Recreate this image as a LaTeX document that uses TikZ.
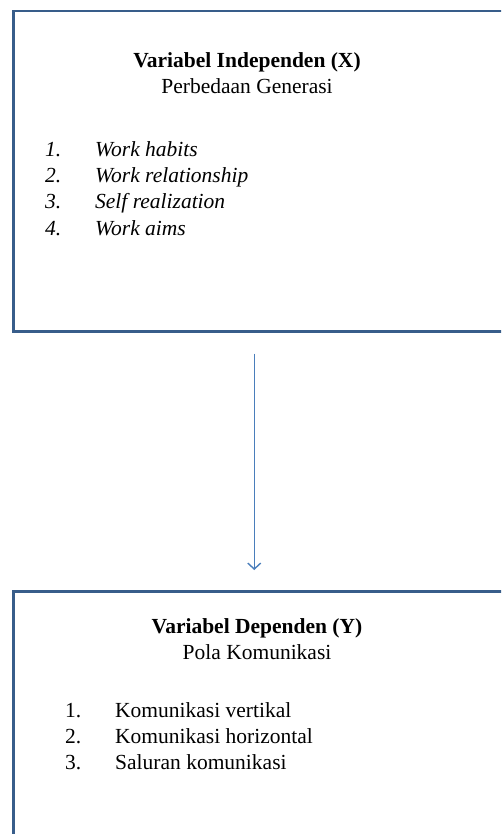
\documentclass[tikz,border=0pt]{standalone}
\usepackage{fontspec}
\setmainfont{Liberation Serif}
\usetikzlibrary{arrows.meta,positioning}
\definecolor{boxline}{HTML}{385D8A}
\definecolor{flowline}{HTML}{4A7EBB}

\begin{document}
\begin{tikzpicture}[x=1pt,y=-1pt,
  varbox/.style={draw=boxline, line width=2.5pt, minimum width=490pt, anchor=north west, inner sep=0pt},
  vartitle/.style={anchor=base, font=\fontsize{21.5}{26}\selectfont\bfseries},
  varsub/.style={anchor=base, font=\fontsize{21.5}{26}\selectfont},
  itemtxt/.style={anchor=base west, inner sep=0pt, font=\fontsize{21.5}{26}\selectfont},
  flow/.style={draw=flowline, line width=1.4pt, -{Straight Barb[length=6pt,width=13pt]}}]
  \useasboundingbox (0,0) rectangle (501,834);
  \clip (0,0) rectangle (501,834);
  \node[varbox, minimum height=320pt] (xbox) at (12,10) {};
  \node[varbox, minimum height=262pt] (ybox) at (12,590) {};

  \node[vartitle] (xtitle) at (247,68) {Variabel Independen (X)};
  \node[varsub] (xsub) at (247,94) {Perbedaan Generasi};
  \node[itemtxt, font=\fontsize{21.5}{26}\selectfont\itshape] (xn1) at (45,157) {1.};
  \node[itemtxt, font=\fontsize{21.5}{26}\selectfont\itshape] (xn2) at (45,183) {2.};
  \node[itemtxt, font=\fontsize{21.5}{26}\selectfont\itshape] (xn3) at (45,208) {3.};
  \node[itemtxt, font=\fontsize{21.5}{26}\selectfont\itshape] (xn4) at (45,235) {4.};
  \node[itemtxt, font=\fontsize{21.5}{26}\selectfont\itshape] (xi1) at (95,157) {Work habits};
  \node[itemtxt, font=\fontsize{21.5}{26}\selectfont\itshape] (xi2) at (95,183) {Work relationship};
  \node[itemtxt, font=\fontsize{21.5}{26}\selectfont\itshape] (xi3) at (95,208) {Self realization};
  \node[itemtxt, font=\fontsize{21.5}{26}\selectfont\itshape] (xi4) at (95,235) {Work aims};

  \node[vartitle] (ytitle) at (257,633) {Variabel Dependen (Y)};
  \node[varsub] (ysub) at (257,659) {Pola Komunikasi};
  \node[itemtxt] (yn1) at (65,717) {1.};
  \node[itemtxt] (yn2) at (65,743) {2.};
  \node[itemtxt] (yn3) at (65,769) {3.};
  \node[itemtxt] (yi1) at (115,717) {Komunikasi vertikal};
  \node[itemtxt] (yi2) at (115,743) {Komunikasi horizontal};
  \node[itemtxt] (yi3) at (115,769) {Saluran komunikasi};

  \draw[flow] ([xshift=-4pt,yshift=-21pt]xbox.south) -- ([xshift=-4pt,yshift=20pt]ybox.north);
\end{tikzpicture}
\end{document}
